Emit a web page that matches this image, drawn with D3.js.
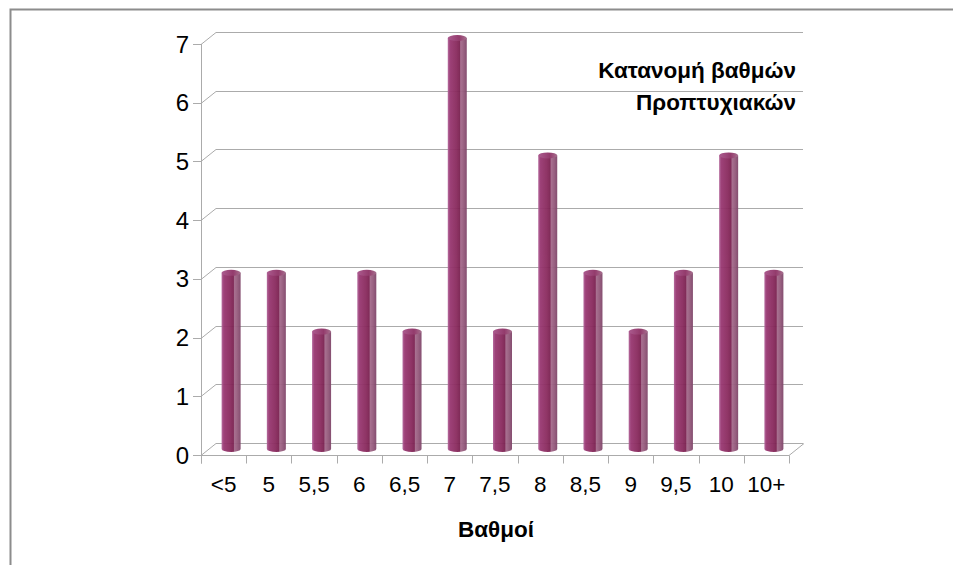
<!DOCTYPE html>
<html>
<head>
<meta charset="utf-8">
<script src="https://cdn.jsdelivr.net/npm/d3@7"></script>
<style>
  body { margin: 0; background: #fff; }
  text { font-family: "Liberation Sans", Arial, sans-serif; fill: #000; }
</style>
</head>
<body>
<svg id="stage" width="953" height="565"></svg>
<script>
var categories = ['<5', '5', '5,5', '6', '6,5', '7', '7,5', '8', '8,5', '9', '9,5', '10', '10+'],
    values = [3, 3, 2, 3, 2, 7, 2, 5, 3, 2, 3, 5, 3],
    yTicks = [0, 1, 2, 3, 4, 5, 6, 7],
    titleLines = ['Κατανομή βαθμών', 'Προπτυχιακών'],
    xTitle = 'Βαθμοί';

var svg = d3.select('#stage'),
    DX = 15,
    DY = -12,
    BAR_W = 19;

var x = d3.scaleBand().domain(categories).range([201, 789]);
var y = d3.scaleLinear().domain([0, 7]).range([455, 44]);

function label(px, py, str, size, anchor, bold) {
  return svg.append('text')
    .attr('x', px)
    .attr('y', py)
    .attr('text-anchor', anchor)
    .attr('font-size', size)
    .attr('font-weight', bold ? 'bold' : 'normal')
    .text(str);
}

// outer frame
svg.append('path')
  .attr('d', 'M10.5,565 V9.5 H953')
  .attr('fill', 'none')
  .attr('stroke', '#8c8c8c')
  .attr('stroke-width', 2);

var defs = svg.append('defs');
var grad = defs.append('linearGradient').attr('id', 'cyl');
[['0%', '#b2659a'], ['12%', '#983771'], ['45%', '#8a2b5e'], ['62%', '#7b2151'],
 ['68%', '#a46a8b'], ['85%', '#93587a'], ['100%', '#7e4468']].forEach(function (s) {
  grad.append('stop').attr('offset', s[0]).attr('stop-color', s[1]);
});
var capGrad = defs.append('linearGradient').attr('id', 'cap');
[['0%', '#a8538a'], ['60%', '#8e3165'], ['100%', '#a36a8a']].forEach(function (s) {
  capGrad.append('stop').attr('offset', s[0]).attr('stop-color', s[1]);
});

var grid = svg.append('g').attr('stroke', '#ababab').attr('fill', 'none').attr('stroke-width', 1);

// back wall gridlines + left wall diagonals
yTicks.forEach(function (t) {
  var yf = Math.round(y(t)) + 0.5;
  grid.append('path')
    .attr('d', 'M' + 201 + ',' + yf + ' L' + (201 + DX) + ',' + (yf + DY) + ' H' + (789 + DX - 1));
});

// floor
var yf0 = Math.round(y(0)) + 0.5;
grid.append('path')
  .attr('d', 'M201,' + yf0 + ' H789 L' + (789 + DX) + ',' + (yf0 + DY));

// front vertical axis
grid.append('line')
  .attr('x1', 201.5).attr('x2', 201.5)
  .attr('y1', Math.round(y(7))).attr('y2', yf0 + 8);

// y ticks
yTicks.forEach(function (t) {
  var yy = Math.round(y(t)) + 0.5;
  grid.append('line').attr('x1', 193).attr('x2', 201).attr('y1', yy).attr('y2', yy);
  label(189, y(t) + 8.5, t, 24, 'end', false);
});

// x ticks
categories.concat([null]).forEach(function (c, i) {
  var xx = Math.round(i < categories.length ? x(c) : x.range()[1]) + 0.5;
  grid.append('line').attr('x1', xx).attr('x2', xx).attr('y1', yf0).attr('y2', yf0 + 8);
});
categories.forEach(function (c) {
  label(x(c) + x.bandwidth() / 2, 492, c, 22.5, 'middle', false);
});

// cylinders
var bars = svg.selectAll('g.bar')
  .data(values)
  .enter()
  .append('g')
  .attr('class', 'bar')
  .attr('opacity', 0.95)
  .attr('transform', function (d, i) {
    return 'translate(' + (x(categories[i]) + x.bandwidth() / 2 + DX / 2) + ',0)';
  });

bars.append('path')
  .attr('fill', 'url(#cyl)')
  .attr('d', function (d) {
    var top = y(d) + DY / 2, bot = y(0) + DY / 2, r = BAR_W / 2;
    return 'M' + (-r) + ',' + top + ' V' + bot +
      ' A' + r + ',3 0 0 0 ' + r + ',' + bot + ' V' + top + ' Z';
  });

bars.append('ellipse')
  .attr('cx', 0)
  .attr('cy', function (d) { return y(d) + DY / 2; })
  .attr('rx', BAR_W / 2)
  .attr('ry', 3)
  .attr('fill', 'url(#cap)');

// titles
titleLines.forEach(function (t, i) {
  label(796, 78 + i * 32, t, 22.5, 'end', true);
});

label(496, 537, xTitle, 22.5, 'middle', true);
</script>
</body>
</html>
